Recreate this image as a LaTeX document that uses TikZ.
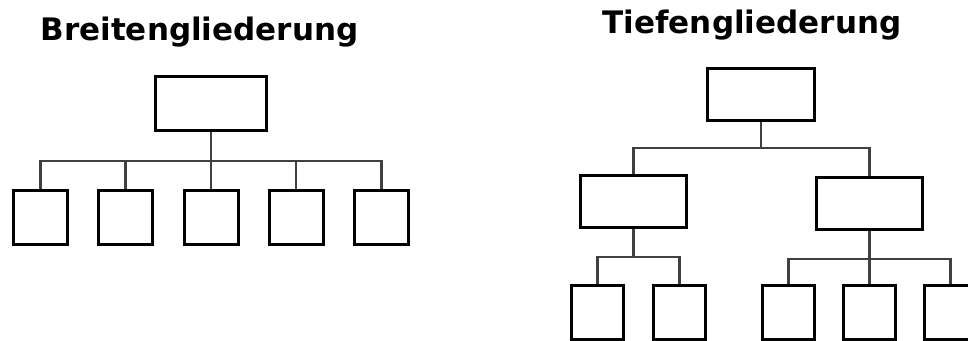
\documentclass[tikz,border=0pt]{standalone}
\usepackage{fontspec}
\setmainfont{DejaVu Sans}

\begin{document}
\begin{tikzpicture}
[x=1pt,y=-1pt,every node/.style={draw,line width=3pt,inner sep=0pt,fill=white},
 title/.style={draw=none,fill=none,anchor=base,font=\fontsize{31}{36}\selectfont\bfseries},
 big/.style={minimum width=111pt,minimum height=54pt},
 small/.style={minimum width=54pt,minimum height=54pt},
 link/.style={line width=2.2pt,black!75}]
\clip (0,0) rectangle (968,340);
\fill[white] (0,0) rectangle (968,340);
% Breitengliederung
\node[title] (tb) at (199.5,40) {Breitengliederung};
\node[big] (b0) at (211,103.5) {};
\node[small] (b1) at (40.5,217.5) {};
\node[small] (b2) at (125.5,217.5) {};
\node[small] (b3) at (211,217.5) {};
\node[small] (b4) at (296,217.5) {};
\node[small] (b5) at (381.5,217.5) {};
% Tiefengliederung
\node[title] (tt) at (752,33) {Tiefengliederung};
\node[big,minimum width=107pt,minimum height=52pt] (t0) at (761,94.5) {};
\node[big,minimum width=106pt,minimum height=52pt] (t1) at (633.5,201.5) {};
\node[big,minimum width=106pt,minimum height=52pt] (t2) at (869.5,203.5) {};
\node[small,minimum width=52pt] (t11) at (597.5,312.5) {};
\node[small,minimum width=52pt] (t12) at (679.5,312.5) {};
\node[small,minimum width=52pt] (t21) at (788.5,312.5) {};
\node[small,minimum width=52pt] (t22) at (869.5,312.5) {};
\node[small,minimum width=52pt] (t23) at (950.5,312.5) {};
\foreach \from/\to in {b0/b1,b0/b2,b0/b3,b0/b4,b0/b5}
\draw[link] (\from.south) -- ++(0,29) -| (\to.north);
\foreach \from/\to in {t0/t1,t0/t2}
\draw[link] (\from.south) -- ++(0,26) -| (\to.north);
\foreach \from/\to in {t1/t11,t1/t12,t2/t21,t2/t22,t2/t23}
\draw[link] (\from.south) -- ++(0,28) -| (\to.north);
\end{tikzpicture}
\end{document}
